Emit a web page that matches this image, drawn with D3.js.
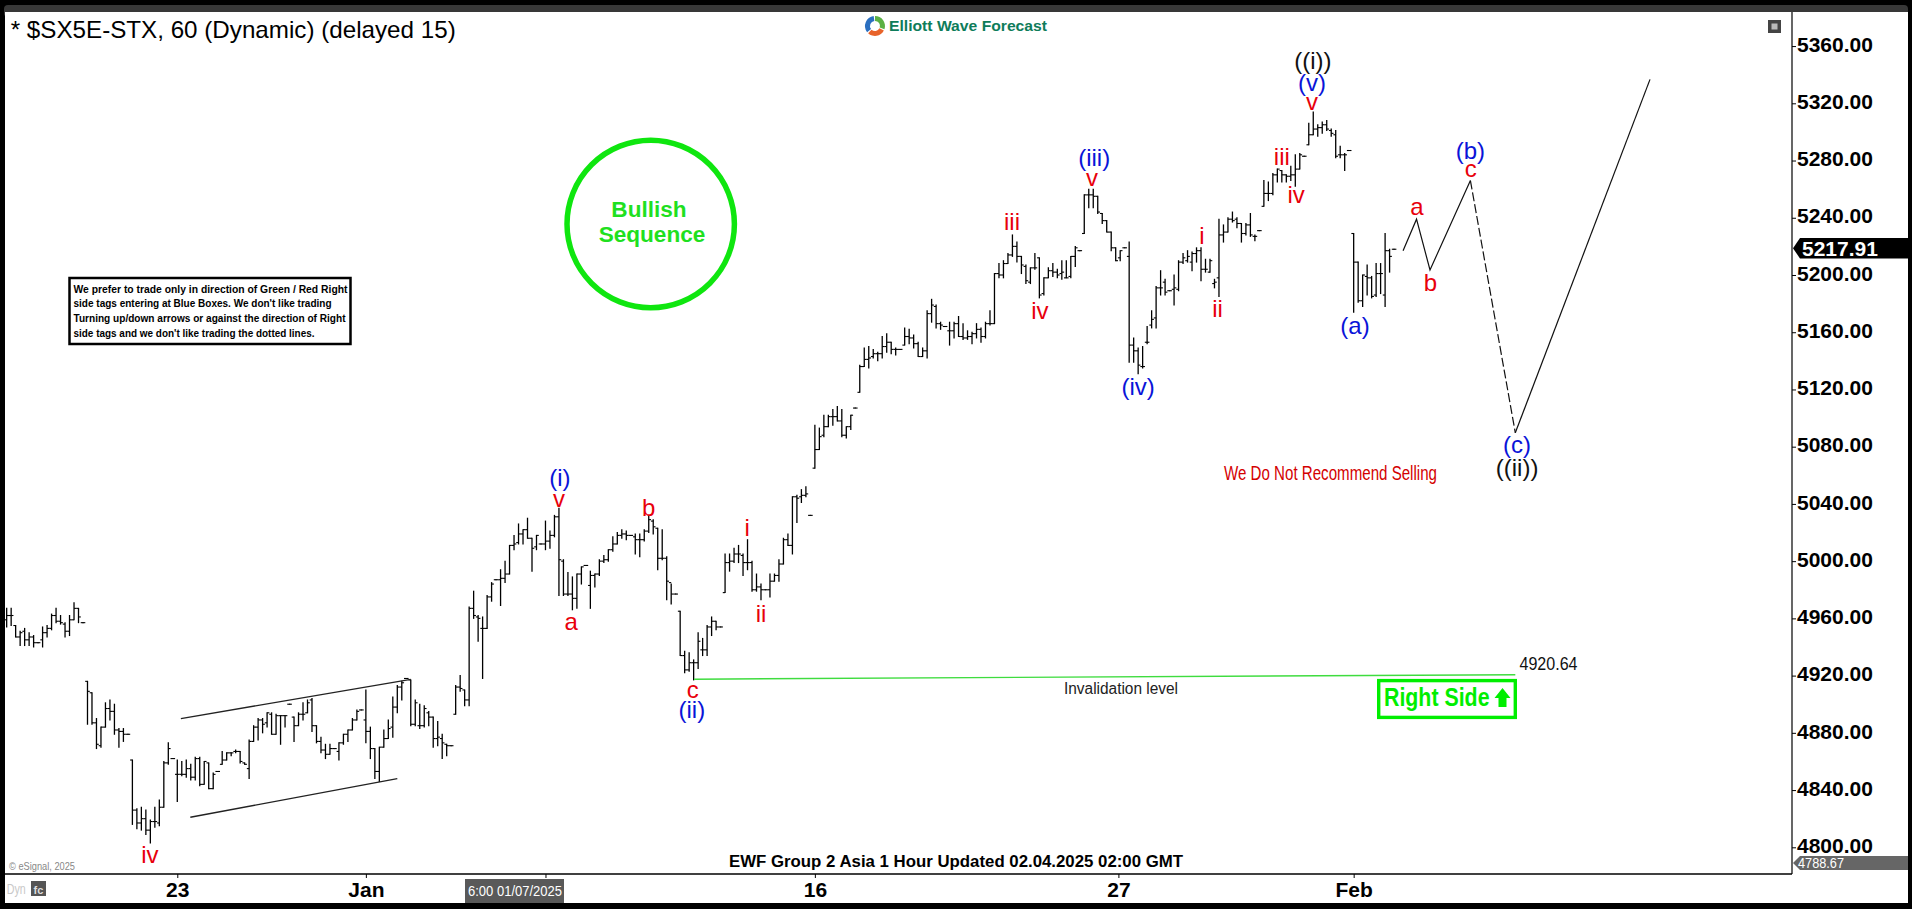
<!DOCTYPE html>
<html><head><meta charset="utf-8">
<script src="https://cdn.jsdelivr.net/npm/d3@7/dist/d3.min.js"></script>
<style>html,body{margin:0;padding:0;background:#fff;overflow:hidden}svg{display:block;font-family:"Liberation Sans",Arial,sans-serif}</style>
</head><body><svg id="c" width="1912" height="909"></svg>
<script>
const barHigh=[4967,4967,4955,4951,4953,4950,4948,4943,4954,4955,
4963,4967,4962,4957,4962,4971,4967,4957,4916,4908,
4890,4884,4901,4903,4900,4883,4883,4879,4861,4827,
4828,4826,4819,4828,4833,4860,4873,4862,4861,4860,
4861,4858,4863,4863,4860,4859,4852,4853,4867,4866,
4866,4868,4867,4859,4875,4885,4890,4890,4894,4894,
4893,4892,4892,4900,4891,4894,4901,4903,4904,4885,
4877,4872,4872,4869,4873,4879,4882,4890,4896,4896,
4910,4884,4869,4870,4882,4889,4905,4913,4916,4918,
4917,4903,4900,4899,4895,4891,4888,4879,4872,4871,
4913,4920,4910,4968,4979,4962,4961,4976,4985,4987,
4994,5000,5011,5018,5026,5022,5030,5016,5018,5012,
5028,5021,5032,5037,5001,4992,4989,4991,4996,4997,
4993,4991,5001,5004,5008,5017,5020,5022,5021,5018,
5019,5019,5022,5032,5029,5023,5022,5003,4984,4977,
4965,4937,4936,4931,4950,4946,4955,4961,4958,4954,
5005,5005,5009,5011,5005,5015,5000,4991,4984,4980,
4991,4991,5001,5016,5019,5045,5046,5050,5052,5032,
5095,5093,5102,5102,5106,5108,5106,5094,5102,5107,
5137,5149,5150,5148,5146,5157,5159,5153,5149,5148,
5163,5162,5158,5153,5149,5175,5183,5179,5167,5164,
5167,5167,5171,5166,5161,5160,5166,5163,5167,5175,
5201,5208,5210,5215,5228,5223,5213,5207,5205,5215,
5212,5198,5205,5208,5204,5210,5210,5213,5220,5217,
5256,5260,5260,5255,5243,5238,5230,5219,5217,5219,
5223,5156,5149,5150,5164,5175,5192,5203,5197,5189,
5200,5210,5215,5217,5216,5219,5219,5211,5211,5197,
5239,5235,5240,5244,5240,5236,5236,5243,5228,5231,
5266,5265,5271,5274,5273,5270,5276,5284,5285,5283,
5306,5314,5305,5307,5308,5302,5301,5290,5285,5287,
5229,5209,5200,5207,5199,5208,5208,5229,5218,5218];
const barLow=[4954,4955,4947,4941,4941,4941,4940,4943,4940,4947,
4952,4957,4956,4947,4948,4959,4957,4957,4886,4886,
4869,4870,4884,4889,4879,4870,4874,4879,4816,4813,
4812,4809,4803,4814,4815,4828,4858,4862,4832,4850,
4849,4847,4847,4843,4844,4841,4841,4853,4858,4861,
4864,4866,4859,4858,4848,4874,4875,4880,4884,4879,
4879,4872,4884,4900,4874,4885,4889,4894,4881,4873,
4866,4862,4865,4869,4861,4872,4874,4882,4889,4896,
4873,4862,4848,4846,4870,4876,4877,4894,4903,4918,
4885,4885,4883,4884,4885,4870,4871,4862,4864,4871,
4893,4909,4899,4899,4960,4944,4918,4953,4972,4987,
4969,4985,4991,5008,5012,5012,5016,4993,5008,5012,
5008,5009,5017,4976,4976,4976,4966,4967,4984,4997,
4967,4982,4990,4999,5000,5007,5012,5016,5015,5018,
5005,5003,5014,5020,5019,4994,5001,4973,4970,4977,
4934,4922,4923,4917,4925,4934,4934,4948,4952,4954,
4978,4993,4999,4999,4990,4994,4979,4979,4973,4980,
4975,4986,4986,4998,5011,5005,5027,5041,5045,5032,
5065,5078,5087,5094,5095,5098,5087,5086,5092,5107,
5118,5136,5135,5142,5140,5142,5146,5145,5144,5148,
5151,5152,5149,5143,5143,5142,5167,5163,5162,5164,
5151,5156,5157,5155,5155,5152,5156,5153,5156,5165,
5166,5198,5198,5208,5213,5209,5201,5194,5194,5204,
5184,5186,5198,5199,5198,5197,5198,5198,5206,5217,
5229,5247,5247,5243,5236,5230,5217,5210,5210,5219,
5139,5139,5131,5135,5152,5163,5163,5186,5186,5189,
5179,5189,5208,5209,5203,5209,5196,5202,5202,5191,
5185,5223,5230,5237,5233,5223,5228,5227,5224,5231,
5248,5252,5256,5265,5265,5265,5266,5262,5274,5283,
5291,5298,5297,5299,5301,5297,5282,5282,5273,5287,
5174,5181,5178,5186,5184,5185,5187,5178,5202,5218];
const barOpen=[4959,4962,4955,4947,4951,4945,4947,4943,4945,4950,
4953,4962,4958,4956,4951,4959,4967,4957,4916,4908,
4887,4871,4884,4897,4895,4882,4881,4879,4861,4826,
4817,4820,4812,4818,4817,4828,4859,4862,4851,4851,
4851,4855,4849,4862,4844,4859,4841,4853,4858,4861,
4866,4867,4867,4859,4855,4874,4884,4889,4887,4893,
4879,4892,4892,4900,4891,4885,4893,4894,4903,4885,
4874,4868,4865,4869,4867,4873,4879,4882,4889,4896,
4889,4881,4869,4853,4870,4876,4884,4898,4912,4918,
4917,4886,4885,4885,4894,4891,4876,4876,4872,4871,
4893,4912,4910,4903,4967,4961,4953,4953,4975,4987,
4987,4988,4991,5011,5013,5019,5022,5016,5010,5012,
5012,5014,5018,5031,5000,4977,4977,4974,4991,4997,
4983,4990,4991,5000,5001,5008,5012,5018,5019,5018,
5017,5015,5015,5021,5028,5023,5002,5002,4985,4977,
4965,4934,4924,4929,4929,4938,4938,4954,4958,4954,
4978,4999,5000,5005,5004,4999,4999,4980,4982,4980,
4980,4986,4990,4998,5015,5011,5045,5045,5046,5032,
5065,5078,5088,5094,5101,5101,5098,5088,5094,5107,
5118,5136,5141,5143,5145,5145,5150,5153,5148,5148,
5151,5157,5156,5152,5143,5147,5173,5178,5166,5164,
5161,5161,5166,5157,5156,5157,5159,5162,5157,5166,
5166,5201,5200,5208,5214,5220,5213,5206,5195,5205,
5212,5187,5198,5203,5202,5201,5198,5199,5213,5217,
5229,5256,5256,5255,5243,5238,5230,5219,5212,5219,
5213,5151,5147,5136,5153,5165,5170,5191,5195,5189,
5190,5190,5209,5210,5209,5215,5217,5204,5202,5194,
5198,5228,5230,5239,5239,5236,5229,5235,5227,5231,
5248,5257,5257,5270,5273,5270,5269,5270,5274,5283,
5291,5298,5302,5303,5305,5301,5298,5284,5284,5287,
5229,5209,5182,5199,5198,5186,5201,5186,5217,5218];
const barClose=[4962,4962,4947,4950,4945,4947,4943,4943,4950,4953,
4962,4958,4957,4951,4959,4967,4961,4957,4909,4887,
4872,4884,4897,4895,4882,4881,4879,4879,4826,4817,
4820,4812,4818,4818,4828,4859,4869,4862,4851,4851,
4855,4849,4862,4844,4860,4841,4851,4853,4861,4866,
4866,4867,4860,4858,4874,4884,4889,4886,4894,4879,
4892,4892,4892,4900,4885,4893,4893,4901,4885,4874,
4868,4865,4869,4869,4873,4879,4882,4889,4895,4896,
4881,4869,4853,4870,4876,4883,4898,4912,4915,4918,
4886,4901,4885,4897,4891,4876,4877,4873,4871,4871,
4912,4911,4903,4967,4962,4960,4953,4975,4984,4987,
4988,4991,5011,5012,5019,5022,5016,5009,5018,5012,
5014,5018,5031,5001,4977,4977,4974,4991,4996,4997,
4990,4991,5000,5001,5008,5012,5018,5019,5018,5018,
5015,5015,5021,5029,5024,5002,5002,4986,4977,4977,
4934,4924,4929,4929,4944,4938,4954,4958,4954,4954,
4999,5000,5005,5005,4999,4999,4980,4982,4980,4980,
4986,4990,4998,5015,5011,5045,5044,5046,5047,5032,
5078,5087,5094,5101,5101,5098,5088,5094,5102,5107,
5136,5141,5142,5145,5145,5150,5153,5148,5148,5148,
5157,5156,5152,5143,5147,5173,5179,5166,5165,5164,
5161,5166,5157,5156,5157,5159,5162,5157,5166,5166,
5201,5200,5208,5214,5220,5213,5207,5196,5205,5205,
5186,5198,5203,5202,5200,5202,5198,5213,5219,5217,
5256,5256,5255,5244,5238,5230,5219,5210,5217,5219,
5151,5147,5137,5136,5153,5169,5191,5191,5188,5189,
5191,5209,5212,5213,5215,5217,5204,5204,5210,5195,
5228,5230,5239,5238,5236,5229,5235,5228,5227,5231,
5257,5257,5270,5274,5270,5269,5270,5274,5284,5283,
5298,5302,5303,5305,5302,5299,5283,5284,5284,5287,
5209,5182,5200,5198,5185,5201,5201,5217,5213,5218];
const priceTicks=[5360,5320,5280,5240,5200,5160,5120,5080,5040,5000,4960,4920,4880,4840,4800];
const dateTickBars=[38,80,120,180,247.6,300];
const dateTickLabels=["23","Jan","","16","27","Feb"];
const projSolid1Bars=[311,314,317,326], projSolid1Prices=[5217,5239,5203.5,5266];
const projDashBars=[326,336], projDashPrices=[5266,5089.7];
const projSolid2Bars=[336,366], projSolid2Prices=[5089.7,5336.7];
const channelUpperBars=[38.8,90], channelUpperPrices=[4890,4917.4];
const channelLowerBars=[40.9,87], channelLowerPrices=[4821,4848];
const invalidationBars=[153.1,336], invalidationPrices=[4917.5,4920.64];
const lastPrice=5217.91, lowPrice=4788.67;
const redWaves=[["v",290.7,5321.1],["c",326.1,5274.1],["a",314.1,5247.5],["b",317.1,5194.4],["iii",284,5282.5],["iv",287.2,5255.9],["i",266.2,5227.5],["ii",269.7,5176.2],["v",241.7,5267.8],["iii",223.9,5237],["iv",230.1,5175],["v",123,5043.5],["a",125.7,4957.5],["b",143,5037.2],["c",152.8,4910],["i",164.9,5023],["ii",168,4963],["iv",31.9,4794.9]];
const blueWaves=[["(v)",290.7,5334.4],["(b)",326,5286.9],["(a)",300.3,5164.4],["(c)",336.4,5081.2],["(iii)",242.2,5281.8],["(iv)",252,5122],["(i)",123.2,5058.1],["(ii)",152.6,4896]];
const blackWaves=[["((i))",290.9,5349.8],["((ii))",336.4,5065.1]];
const noticeLines=["We prefer to trade only in direction of Green / Red Right","side tags entering at Blue Boxes. We don't like trading","Turning up/down arrows or against the direction of Right","side tags and we don't like trading the dotted lines."];

const svg=d3.select("#c");
const x=d3.scaleLinear().domain([0,309]).range([6.67,6.67+309*4.49]);
const y=d3.scaleLinear().domain([5320,4800]).range([103.3,847.3]);
const RIGHT=1792,BOTTOM=874,LEFT=5,TOP=12;

// frame
svg.append("rect").attr("width",1912).attr("height",909).attr("fill","#000");
svg.append("rect").attr("x",LEFT-1).attr("y",5).attr("width",1908-LEFT+1).attr("height",12).attr("rx",4).attr("fill","#383838");
svg.append("rect").attr("x",LEFT).attr("y",TOP).attr("width",1908-LEFT).attr("height",903-TOP).attr("fill","#fff");

// axes
const yAxis=d3.axisRight(y).tickValues(priceTicks).tickFormat(d3.format(".2f")).tickSize(4).tickPadding(1);
const yg=svg.append("g").attr("transform",`translate(${RIGHT},0)`).call(yAxis);
yg.select(".domain").remove();
yg.selectAll("text").attr("font-size",21).attr("font-weight","bold").attr("fill","#000").attr("font-family",'"Liberation Sans"').attr("y",-1.5);
yg.selectAll("line").attr("stroke","#000").attr("stroke-width",1);
const xAxis=d3.axisBottom(x).tickValues(dateTickBars).tickFormat((d,i)=>dateTickLabels[i]).tickSize(4).tickPadding(4);
const xg=svg.append("g").attr("transform",`translate(0,${BOTTOM})`).call(xAxis);
xg.select(".domain").remove();
xg.selectAll("text").attr("font-size",21).attr("font-weight","bold").attr("fill","#000").attr("font-family",'"Liberation Sans"');
xg.selectAll("line").attr("stroke","#000").attr("stroke-width",1);
svg.append("line").attr("x1",RIGHT).attr("x2",RIGHT).attr("y1",TOP).attr("y2",BOTTOM).attr("stroke","#000").attr("stroke-width",1.2);
svg.append("line").attr("x1",LEFT).attr("x2",RIGHT).attr("y1",BOTTOM).attr("y2",BOTTOM).attr("stroke","#000").attr("stroke-width",1.5);

// price bars
const bars=svg.append("g").attr("stroke","#000").attr("fill","none");
barHigh.forEach((h,i)=>{
  const g=bars.append("g");
  g.append("line").attr("x1",x(i)).attr("x2",x(i)).attr("y1",y(h)-0.5).attr("y2",y(barLow[i])+0.5).attr("stroke-width",1.3);
  g.append("line").attr("x1",x(i)-2.3).attr("x2",x(i)).attr("y1",y(barOpen[i])).attr("y2",y(barOpen[i])).attr("stroke-width",1.1);
  g.append("line").attr("x1",x(i)).attr("x2",x(i)+2.3).attr("y1",y(barClose[i])).attr("y2",y(barClose[i])).attr("stroke-width",1.1);
});

// lines
const seg=(xs,ys)=>d3.line().x((d,i)=>x(xs[i])).y(d=>y(d))(ys);
const addPath=(xs,ys,st,w,dash)=>svg.append("path").attr("d",seg(xs,ys)).attr("fill","none").attr("stroke",st).attr("stroke-width",w).attr("stroke-dasharray",dash||null);
addPath(channelUpperBars,channelUpperPrices,"#222",1.3);
addPath(channelLowerBars,channelLowerPrices,"#222",1.3);
addPath(invalidationBars,invalidationPrices,"#3fdc3f",1.4);
addPath(projSolid1Bars,projSolid1Prices,"#111",1.2);
addPath(projDashBars,projDashPrices,"#111",1.2,"9 3");
addPath(projSolid2Bars,projSolid2Prices,"#111",1.2);

// wave labels
const addWaves=(arr,color)=>svg.append("g").attr("fill",color).attr("font-size",24).attr("text-anchor","middle")
 .selectAll("text").data(arr).join("text").text(d=>d[0]).attr("x",d=>x(d[1])).attr("y",d=>y(d[2])+8);
addWaves(redWaves,"#e8000b");
addWaves(blueWaves,"#0a14d8");
addWaves(blackWaves,"#111");

// helper for fitted text
const fit=(t,xx,yy,len,size,opt={})=>svg.append("text").text(t).attr("x",xx).attr("y",yy).attr("font-size",size)
  .attr("textLength",len).attr("lengthAdjust","spacingAndGlyphs")
  .attr("fill",opt.fill||"#000").attr("font-weight",opt.weight||"normal");

// title & footer
fit("* $SX5E-STX, 60 (Dynamic) (delayed 15)",10.7,38,445,24);
fit("EWF Group 2 Asia 1 Hour Updated 02.04.2025 02:00 GMT",729,867,454,16,{weight:"bold"});
fit("© eSignal, 2025",9,869.5,66,11,{fill:"#888"});
fit("Dyn",6.7,894,19,14,{fill:"#c8c8c8"});
svg.append("rect").attr("x",31).attr("y",881).attr("width",15).attr("height",15).attr("fill","#555");
svg.append("text").text("fc").attr("x",38.5).attr("y",894).attr("font-size",11).attr("font-weight","bold").attr("fill","#ddd").attr("text-anchor","middle");

// crosshair date label
svg.append("rect").attr("x",465).attr("y",879).attr("width",99).attr("height",24).attr("fill","#595959");
fit("6:00 01/07/2025",468,896,94,14,{fill:"#fff"});

// price tags
const tag=(p,top,h,fill)=>{
  const m=top+h/2;
  svg.append("path").attr("d",`M1793,${m}L1800,${top}L1908,${top}L1908,${top+h}L1800,${top+h}Z`).attr("fill",fill);
};
tag(lastPrice,238,20.5,"#000");
svg.append("text").text(d3.format(".2f")(lastPrice)).attr("x",1802).attr("y",255.5).attr("font-size",21).attr("font-weight","bold").attr("fill","#fff");
tag(lowPrice,856,14,"#666");
fit(d3.format(".2f")(lowPrice),1798,868,46,14,{fill:"#fff"});

// logo
const logo=svg.append("g").attr("transform","translate(875,26)");
const arc=d3.arc().innerRadius(5).outerRadius(10);
[["#5bb044",0.0,1.9],["#e8632a",2.05,3.9],["#2a6fc0",4.05,6.15]].forEach(a=>{
  logo.append("path").attr("d",arc({startAngle:a[1],endAngle:a[2]})).attr("fill",a[0]);
});
fit("Elliott Wave Forecast",889,31,158,15,{fill:"#0e7c5a",weight:"bold"});

// top right icon
svg.append("rect").attr("x",1768).attr("y",20).attr("width",13).attr("height",13).attr("fill","#444");
svg.append("rect").attr("x",1771.5).attr("y",23.5).attr("width",6).attr("height",6).attr("fill","#bbb");

// notice box
svg.append("rect").attr("x",69.5).attr("y",278).attr("width",281).attr("height",66).attr("fill","#fff").attr("stroke","#000").attr("stroke-width",2.5);
[274,258,272,241].forEach((w,i)=>fit(noticeLines[i],73.5,292.7+i*14.7,w,11.5,{weight:"bold"}));

// bullish circle
svg.append("circle").attr("cx",650.7).attr("cy",224).attr("r",83.7).attr("fill","none").attr("stroke","#0fe60f").attr("stroke-width",5.5);
svg.append("text").text("Bullish").attr("x",649).attr("y",216.7).attr("text-anchor","middle").attr("font-size",22.6).attr("font-weight","bold").attr("fill","#1fe01f");
svg.append("text").text("Sequence").attr("x",652).attr("y",241.7).attr("text-anchor","middle").attr("font-size",22.6).attr("font-weight","bold").attr("fill","#1fe01f");

// annotations
fit("We Do Not Recommend Selling",1224,480,213,20,{fill:"#d40000"});
fit("Invalidation level",1064,694,114,16,{fill:"#222"});
fit("4920.64",1519.5,670,58,18,{fill:"#111"});

// right side box
svg.append("rect").attr("x",1378.7).attr("y",680.6).attr("width",136.6).attr("height",36.8).attr("fill","#fff").attr("stroke","#00ee00").attr("stroke-width",3.4);
fit("Right Side",1384,706,105.5,25,{fill:"#00ee00",weight:"bold"});
svg.append("path").attr("d","M1502.5,688L1510.5,698L1506.5,698L1506.5,707L1498.5,707L1498.5,698L1494.5,698Z").attr("fill","#00ee00");
</script></body></html>
